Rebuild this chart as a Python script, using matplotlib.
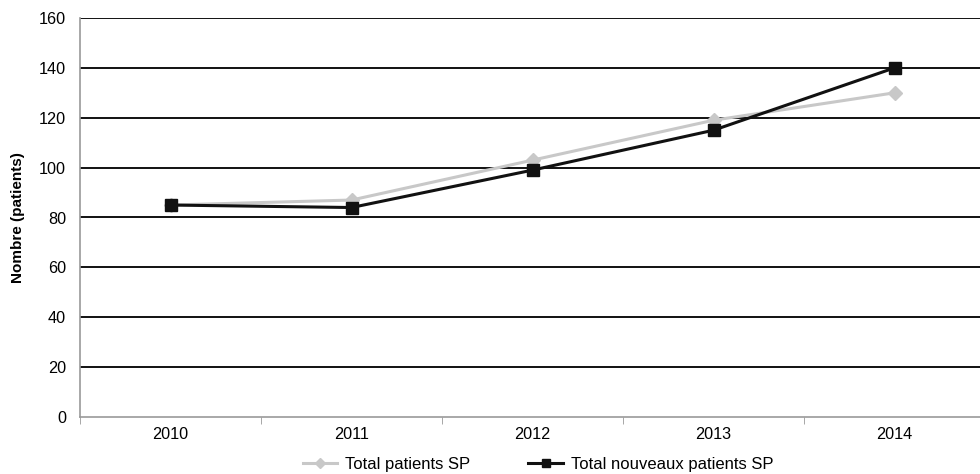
import matplotlib.pyplot as plt

plt.rcParams['font.family'] = ['Liberation Sans', 'DejaVu Sans']

years = ['2010', '2011', '2012', '2013', '2014']
total_sp = [85, 87, 103, 119, 130]
nouveaux_sp = [85, 84, 99, 115, 140]
y_ticks = [0, 20, 40, 60, 80, 100, 120, 140, 160]

fig = plt.figure(figsize=(9.8, 4.74), dpi=100)
ax = fig.add_axes([80 / 980, 57 / 474, 905 / 980, 399 / 474])

x = range(len(years))
ax.plot(x, total_sp, color='#c8c8c8', lw=2.2, marker='D', ms=7,
        label='Total patients SP', zorder=3)
ax.plot(x, nouveaux_sp, color='#111111', lw=2.2, marker='s', ms=8,
        label='Total nouveaux patients SP', zorder=4)

ax.set_xlim(-0.5, len(years) - 0.5)
ax.set_ylim(0, 160)
ax.set_yticks(y_ticks)
ax.set_xticks(list(x))
ax.set_xticklabels(years)
ax.set_xticks([i - 0.5 for i in range(len(years) + 1)], minor=True)
ax.tick_params(axis='x', which='major', length=0, pad=7, labelsize=11.7)
ax.tick_params(axis='x', which='minor', length=5, color='#999999')
ax.tick_params(axis='y', length=0, pad=10, labelsize=11.7)

for v in y_ticks[1:]:
    ax.axhline(v, color='#111111', lw=1.4, zorder=1)

for side in ['top', 'right']:
    ax.spines[side].set_visible(False)
for side in ['left', 'bottom']:
    ax.spines[side].set_color('#999999')
    ax.spines[side].set_linewidth(1.2)

ax.set_ylabel('Nombre (patients)', fontsize=11, fontweight='bold', labelpad=10)

fig.legend(*ax.get_legend_handles_labels(), loc='center',
           bbox_to_anchor=(538 / 980, 1 - 464 / 474), ncol=2, frameon=False,
           fontsize=12, columnspacing=3.5, handlelength=2.05, handletextpad=0.5,
           markerscale=0.75, borderaxespad=0, borderpad=0)

fig.savefig('out.png', dpi=100)
